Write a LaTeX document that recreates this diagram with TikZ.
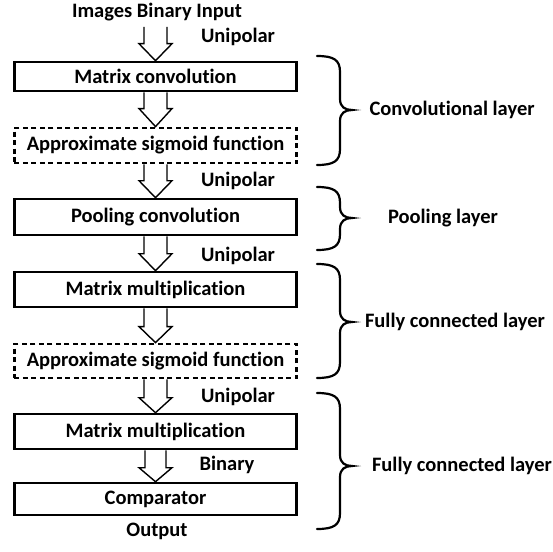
\documentclass[tikz,border=0pt]{standalone}
\usepackage{fontspec}
\setmainfont{Carlito}[Ligatures={NoCommon}]
\usetikzlibrary{calc}
\tikzset{
  txt/.style={font=\fontsize{20.5}{24}\selectfont\bfseries, inner sep=0pt},
  solidbox/.style={draw, line width=2.6pt, rectangle, minimum width=282.5pt, inner sep=0pt, txt},
  dashbox/.style={solidbox, line width=2.8pt, dash pattern=on 5pt off 3.5pt},
  arrowst/.style={draw, line width=1.4pt, line join=miter, fill=white},
  bracest/.style={draw, line width=2.2pt, line cap=round},
}
\newcommand\blkarrow[4]{% from, to, head length, shaft half width
  \path[arrowst] let \p1=(#1), \p2=(#2) in
    (\x1-#4,\y1) -- (\x1-#4,\y2+#3) -- (\x1-16.5pt,\y2+#3) -- (\x1,\y2)
    -- (\x1+16.5pt,\y2+#3) -- (\x1+#4,\y2+#3) -- (\x1+#4,\y1);
}
\newcommand\curlybrace[3]{% top, mid, bottom
  \draw[bracest] (317,#1) .. controls (334,#1) and (340,#1+4) .. (340,#1+16)
    -- (340,#2-11) .. controls (340,#2-3) and (345,#2) .. (352,#2)
    .. controls (345,#2) and (340,#2+3) .. (340,#2+11)
    -- (340,#3-16) .. controls (340,#3-4) and (334,#3) .. (317,#3);
}
\begin{document}
\begin{tikzpicture}[x=1pt,y=-1pt]
\useasboundingbox (0,0) rectangle (553,551);
% texts
\node[txt] (title) at (157,12) {Images Binary Input};
\coordinate (in) at (155.5,27);
\node[txt] (u1) at (238,37) {Unipolar};
\node[txt] (u2) at (238,181) {Unipolar};
\node[txt] (u3) at (238,256) {Unipolar};
\node[txt] (u4) at (238,397) {Unipolar};
\node[txt] (bin) at (227,465) {Binary};
\node[txt] (out) at (157,531) {Output};
% boxes
\node[solidbox, minimum height=29pt] (b1) at (155.5,76.5) {Matrix convolution};
\node[dashbox, minimum height=35pt] (d1) at (155.5,145.5) {Approximate sigmoid function};
\node[solidbox, minimum height=36pt] (b2) at (155.5,217) {Pooling convolution};
\node[solidbox, minimum height=35pt] (b3) at (155.5,289.5) {Matrix multiplication};
\node[dashbox, minimum height=34pt] (d2) at (155.5,361) {Approximate sigmoid function};
\node[solidbox, minimum height=35pt] (b4) at (155.5,431.5) {Matrix multiplication};
\node[solidbox, minimum height=32pt] (b5) at (155.5,499) {Comparator};
% arrows
\blkarrow{in}{b1.north}{17pt}{11.5pt}
\blkarrow{b1.south}{d1.north}{18pt}{11.5pt}
\blkarrow{d1.south}{b2.north}{17pt}{11.5pt}
\blkarrow{b2.south}{b3.north}{17pt}{11.5pt}
\blkarrow{b3.south}{d2.north}{16pt}{11.5pt}
\blkarrow{d2.south}{b4.north}{15pt}{11.5pt}
\blkarrow{b4.south}{b5.north}{14pt}{10.5pt}
% braces
\curlybrace{56}{110}{165}
\curlybrace{187}{218}{250}
\curlybrace{264}{322}{378}
\curlybrace{393}{466}{529}
\node[txt] (l1) at (452,110) {Convolutional layer};
\node[txt] (l2) at (443,218) {Pooling layer};
\node[txt] (l3) at (455,322) {Fully connected layer};
\node[txt] (l4) at (462,466) {Fully connected layer};
\end{tikzpicture}
\end{document}
